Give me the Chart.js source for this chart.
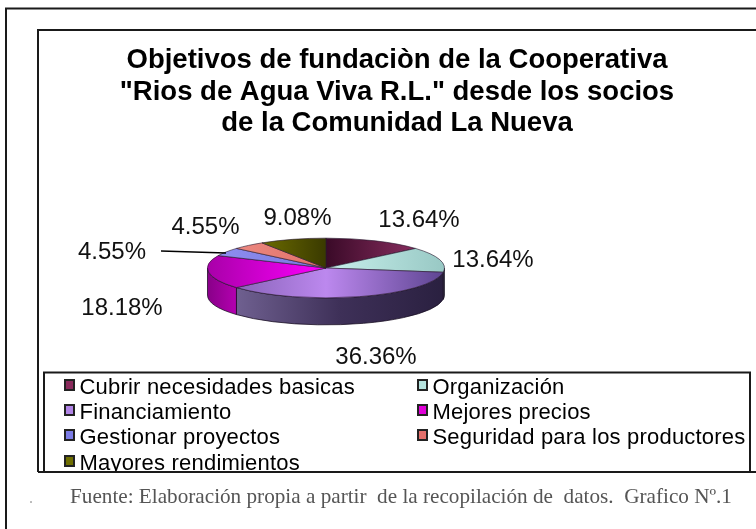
<!DOCTYPE html>
<html><head><meta charset="utf-8">
<style>html,body{margin:0;padding:0;background:#fff}canvas{display:block}</style>
<script src="https://cdn.jsdelivr.net/npm/chart.js@4"></script>
</head><body><canvas id="c" width="756" height="529"></canvas>
<script>
const categories = ["Cubrir necesidades basicas","Organización","Financiamiento","Mejores precios","Gestionar proyectos","Seguridad para los productores","Mayores rendimientos"];
const values = [13.64,13.64,36.36,18.18,4.55,4.55,9.08];
const valueLabels = ["13.64%","13.64%","36.36%","18.18%","4.55%","4.55%","9.08%"];
const titleLines = ["Objetivos de fundaciòn de la Cooperativa","\"Rios de Agua Viva R.L.\" desde los socios","de la Comunidad La Nueva"];
const footerText = "Fuente: Elaboración propia a partir  de la recopilación de  datos.  Grafico Nº.1";
const swatchColors = ["#8a2a5c","#b5e3de","#b184e6","#e000d8","#7c7ce6","#e4706c","#6e6e00"];
const topStops = [["#3a0a28","#3a0a28","#a03870"],["#e8fcf8","#c8f0ec","#98c8c4"],["#7858a8","#bc88ee","#5c4490"],["#a800a8","#ff00ff","#ff00ff"],["#9090f0","#7878e0","#6868d0"],["#f09088","#e07068","#b05048"],["#949400","#3a3a00","#3a3a00"]];
const wallStops = [["#4a1030","#4a1030"],["#6f8a88","#8fb0ac"],["#6f6090","#3e3058","#2a2040"],["#880088","#b400b0"],["#404080","#404080"],["#804040","#804040"],["#404000","#404000"]];
const labelAnchors = [[419,220],[493,260],[376,357],[122,308],[112,252],[205.5,227],[297.5,218]];

const SQUASH = 0.252, DEPTH = 27;
function hGrad(c, x0, x1, stops){
  const g = c.createLinearGradient(x0,0,x1,0);
  stops.forEach((s,i)=>g.addColorStop(stops.length>1? i/(stops.length-1):0, s));
  return g;
}
const pie3d = {
  id:'pie3d',
  beforeDraw(chart){
    const c = chart.ctx; c.save();
    c.fillStyle='#fff'; c.fillRect(0,0,756,529);
    c.strokeStyle='#1a1a1a'; c.lineWidth=2;
    c.beginPath(); c.moveTo(6,529); c.lineTo(6,8.5); c.lineTo(756,8.5); c.stroke();
    c.beginPath(); c.moveTo(38,472); c.lineTo(38,30); c.lineTo(756,30); c.stroke();
    c.fillStyle='#000'; c.font='bold 27.5px "Liberation Sans"'; c.textAlign='center'; c.textBaseline='alphabetic';
    const ty=[68,100,131];
    titleLines.forEach((t,i)=>c.fillText(t,397,ty[i]));
    c.restore();
  },
  beforeDatasetsDraw(chart){
    const c = chart.ctx, arcs = chart.getDatasetMeta(0).data;
    const cx = arcs[0].x, cy = arcs[0].y, r = arcs[0].outerRadius, ry = r*SQUASH;
    c.save();
    arcs.forEach((a,i)=>{
      const s = Math.max(a.startAngle,0), e = Math.min(a.endAngle,Math.PI);
      if(e<=s) return;
      c.beginPath();
      c.ellipse(cx,cy,r,ry,0,s,e,false);
      c.ellipse(cx,cy+DEPTH,r,ry,0,e,s,true);
      c.closePath();
      c.fillStyle = hGrad(c,cx+r*Math.cos(e),cx+r*Math.cos(s),wallStops[i]);
      c.fill();
      c.strokeStyle='rgba(20,10,30,.75)'; c.lineWidth=1; c.stroke();
    });
    c.restore();
    c.save();
    c.translate(0,cy); c.scale(1,SQUASH); c.translate(0,-cy);
  },
  afterDatasetsDraw(chart){
    const c = chart.ctx;
    c.restore();
    c.save();
    c.fillStyle='#111'; c.font='24px "Liberation Sans"'; c.textAlign='center'; c.textBaseline='middle';
    valueLabels.forEach((t,i)=>c.fillText(t,labelAnchors[i][0],labelAnchors[i][1]));
    c.strokeStyle='#000'; c.lineWidth=1.5;
    c.beginPath(); c.moveTo(161,251); c.lineTo(226,253); c.stroke();
    c.restore();
  },
  afterDraw(chart){
    const c = chart.ctx; c.save();
    c.save();
    c.beginPath(); c.rect(0,0,756,472); c.clip();
    c.font='22px "Liberation Sans"'; c.letterSpacing='0.2px'; c.textBaseline='alphabetic';
    const cols=[64,417], rows=[394,419,444,470];
    categories.forEach((t,i)=>{
      const x=cols[i%2], y=rows[Math.floor(i/2)];
      c.fillStyle=swatchColors[i]; c.fillRect(x+1,y-14,9,10);
      c.strokeStyle='#222'; c.lineWidth=2; c.strokeRect(x+1,y-14,9,10);
      c.fillStyle='#000'; c.fillText(t,x+15.5,y);
    });
    c.restore();
    c.strokeStyle='#1a1a1a'; c.lineWidth=2;
    c.strokeRect(44,372.5,706,99.5);
    c.beginPath(); c.moveTo(38,472); c.lineTo(756,472); c.stroke();
    c.fillStyle='#555'; c.font='21.2px "Liberation Serif"'; c.textAlign='left'; c.textBaseline='alphabetic';
    c.fillText(footerText,70,503);
    c.fillStyle='#aaa'; c.font='16px "Liberation Serif"';
    c.fillText(".",29,503);
    c.restore();
  }
};
new Chart(document.getElementById('c').getContext('2d'),{
  type:'pie',
  data:{labels:categories,datasets:[{data:values,
    backgroundColor(ctx){
      const ca = ctx.chart.chartArea;
      if(!ca) return swatchColors[ctx.dataIndex];
      return hGrad(ctx.chart.ctx,ca.left,ca.right,topStops[ctx.dataIndex]);
    },
    borderColor:'#2a1a30',borderWidth:1}]},
  options:{responsive:false,animation:false,
    layout:{padding:{left:207,right:311,top:149,bottom:142}},
    plugins:{legend:{display:false},title:{display:false},tooltip:{enabled:false}}},
  plugins:[pie3d]
});
</script></body></html>
